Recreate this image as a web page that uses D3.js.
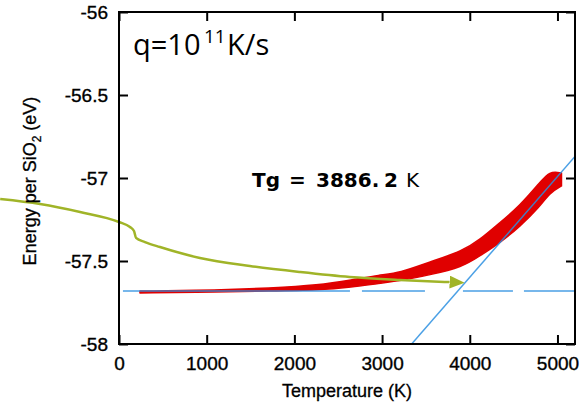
<!DOCTYPE html>
<head>
<meta charset="utf-8">
<style>
  body { margin: 0; background: #fff; }
  .axis text { font-family: "Liberation Sans", Arial, sans-serif; font-size: 19px; fill: #000; stroke: #000; stroke-width: 0.35px; }
  .axis line { stroke: #000; stroke-width: 2px; }
  .axis path { display: none; }
  .lbl { font: 18px "Liberation Sans", Arial, sans-serif; fill: #000; stroke: #000; stroke-width: 0.3px; }
</style>
</head>
<body>
<script src="https://d3js.org/d3.v7.min.js"></script>
<script>
// tick values
var xTicks = [0, 1000, 2000, 3000, 4000, 5000];
var yTicks = [-58, -57.5, -57, -56.5, -56];

// red simulation band (T, upper E, lower E)
var redT   = [239, 1139, 1708, 2278, 2654, 2973, 3200, 3542, 3918, 4112, 4339, 4567, 4795, 4909, 5046];
var redTop = [-57.681, -57.675, -57.663, -57.645, -57.614, -57.584, -57.572, -57.506, -57.440, -57.373, -57.271, -57.169, -57.030, -56.958, -56.970];
var redBot = [-57.693, -57.687, -57.681, -57.675, -57.657, -57.633, -57.620, -57.584, -57.536, -57.470, -57.392, -57.295, -57.175, -57.090, -57.048];

// blue fit lines
var lowFitT = [45, 5200];
var lowFitE = [-57.681, -57.681];
var highFitT = [3337, 5200];
var highFitE = [-58, -56.87];

// green guide arrow
var greenT = [-1355, -900, -444, 0, 125, 171, 194, 296, 467, 923, 1492, 2062, 2631, 3200, 3770];
var greenE = [-57.127, -57.157, -57.205, -57.265, -57.295, -57.319, -57.361, -57.386, -57.416, -57.482, -57.530, -57.566, -57.596, -57.614, -57.627];

var W = 585, H = 411;
var pL = 119, pR = 575, pT = 12, pB = 344;

var svg = d3.select("body").append("svg")
    .attr("width", W)
    .attr("height", H);

var x = d3.scaleLinear().domain([0, 5200]).range([pL, pR]);
var y = d3.scaleLinear().domain([-58, -56]).range([pB, pT]);

var defs = svg.append("defs");
defs.append("clipPath").attr("id", "plot")
  .append("rect")
    .attr("x", pL).attr("y", pT)
    .attr("width", pR - pL).attr("height", pB - pT);

defs.append("marker")
    .attr("id", "head")
    .attr("markerUnits", "userSpaceOnUse")
    .attr("viewBox", "0 0 15 13")
    .attr("refX", 0).attr("refY", 6.5)
    .attr("markerWidth", 15).attr("markerHeight", 13)
    .attr("orient", "auto")
  .append("path")
    .attr("d", "M0,0L15,6.5L0,13Z")
    .attr("fill", "#a0b428");

// red band
var band = redT.map(function(t, i) { return {t: t, hi: redTop[i], lo: redBot[i]}; });
svg.append("path")
    .datum(band)
    .attr("fill", "#e00000")
    .attr("stroke", "#e00000")
    .attr("stroke-width", 1.5)
    .attr("stroke-linejoin", "round")
    .attr("d", d3.area()
      .curve(d3.curveBasis)
      .x(function(d) { return x(d.t); })
      .y0(function(d) { return y(d.lo); })
      .y1(function(d) { return y(d.hi); }));

var line = d3.line()
    .x(function(d) { return x(d[0]); })
    .y(function(d) { return y(d[1]); });

var g = svg.append("g").attr("clip-path", "url(#plot)");

g.append("path")
    .datum(d3.zip(lowFitT, lowFitE))
    .attr("fill", "none")
    .attr("stroke", "#2b8fe0")
    .attr("stroke-opacity", 0.85)
    .attr("stroke-width", 1.5)
    .attr("stroke-dasharray", "227,12,63,38,50,11,60")
    .attr("d", line);

g.append("path")
    .datum(d3.zip(highFitT, highFitE))
    .attr("fill", "none")
    .attr("stroke", "#2b8fe0")
    .attr("stroke-opacity", 0.85)
    .attr("stroke-width", 1.5)
    .attr("d", line);

// green arrow, drawn past the left edge like the original
svg.append("path")
    .datum(d3.zip(greenT, greenE))
    .attr("fill", "none")
    .attr("stroke", "#a0b428")
    .attr("stroke-width", 2.5)
    .attr("marker-end", "url(#head)")
    .attr("d", d3.line()
      .curve(d3.curveMonotoneX)
      .x(function(d) { return x(d[0]); })
      .y(function(d) { return y(d[1]); }));

// axes with inward ticks
svg.append("g")
    .attr("class", "axis")
    .attr("transform", "translate(0," + pB + ")")
    .call(d3.axisBottom(x).tickValues(xTicks).tickSizeInner(-9).tickSizeOuter(0).tickPadding(13)
      .tickFormat(d3.format("d")));

svg.append("g")
    .attr("class", "axis")
    .attr("transform", "translate(" + pL + ",0)")
    .call(d3.axisLeft(y).tickValues(yTicks).tickSizeInner(-9).tickSizeOuter(0).tickPadding(11)
      .tickFormat(function(d) { return String(d); }));

svg.append("g")
    .attr("class", "axis")
    .attr("transform", "translate(0," + pT + ")")
    .call(d3.axisTop(x).tickValues(xTicks).tickSizeInner(-9).tickSizeOuter(0).tickFormat(""));

svg.append("g")
    .attr("class", "axis")
    .attr("transform", "translate(" + pR + ",0)")
    .call(d3.axisRight(y).tickValues(yTicks).tickSizeInner(-9).tickSizeOuter(0).tickFormat(""));

// frame
svg.append("rect")
    .attr("x", pL).attr("y", pT)
    .attr("width", pR - pL).attr("height", pB - pT)
    .attr("fill", "none")
    .attr("stroke", "#000")
    .attr("stroke-width", 2);

// axis titles
svg.append("text")
    .attr("class", "lbl")
    .attr("x", 347).attr("y", 397)
    .attr("text-anchor", "middle")
    .text("Temperature (K)");

var yl = svg.append("text")
    .attr("class", "lbl")
    .attr("transform", "translate(36,181) rotate(-90)")
    .attr("text-anchor", "middle");
yl.append("tspan").text("Energy per SiO");
yl.append("tspan").attr("font-size", 12).attr("dy", 5).text("2");
yl.append("tspan").attr("dy", -5).text(" (eV)");

// annotations
var q = svg.append("text")
    .attr("y", 55)
    .style("font", "29px 'Open Sans', sans-serif");
q.append("tspan").attr("x", 133).text("q=10");
q.append("tspan").attr("x", 204).attr("dy", -12).style("font-size", "19px").text("11");
q.append("tspan").attr("x", 227).attr("dy", 12).text("K/s");

var tg = svg.append("text")
    .attr("y", 187)
    .style("font", "bold 20px 'DejaVu Sans', sans-serif");
tg.append("tspan").attr("x", 252).text("Tg");
tg.append("tspan").attr("x", 289).text("=");
tg.append("tspan").attr("x", 316).text("3886.");
tg.append("tspan").attr("x", 384).text("2");
tg.append("tspan").attr("x", 406).style("font-weight", "normal").text("K");
</script>
</body>
